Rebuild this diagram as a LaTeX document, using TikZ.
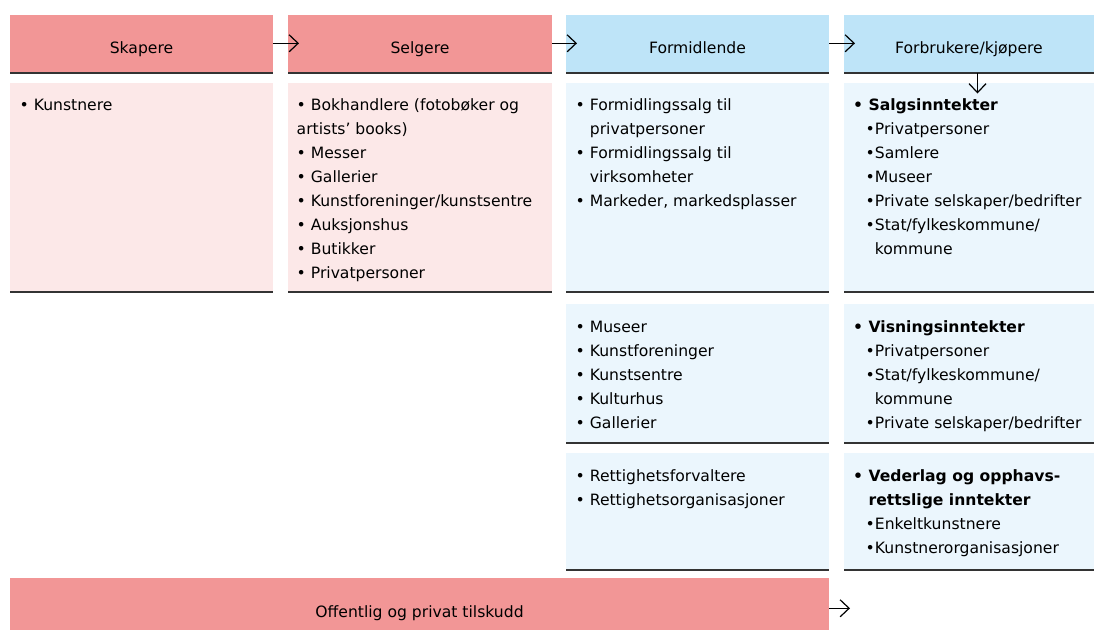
\documentclass[tikz,border=0pt]{standalone}
\usepackage{fontspec}
\setmainfont{DejaVu Sans}
\usetikzlibrary{arrows.meta}
\definecolor{pinkH}{HTML}{F29696}
\definecolor{pinkB}{HTML}{FCE8E8}
\definecolor{blueH}{HTML}{BEE4F8}
\definecolor{blueB}{HTML}{EBF6FD}
\definecolor{rulec}{HTML}{333333}
\newcommand\fsz{\fontsize{15.6}{18}\selectfont}
\newcommand\boxlines[4]{%
  \foreach \t [count=\i] in {#4} {\node[txt] (#1-\i) at ({#2},{#3+24*(\i-1)}) {\t};}}
\tikzset{
  cell/.style={draw=none, inner sep=0pt, outer sep=0pt, anchor=north west},
  hdr/.style={cell, minimum height=58pt, text height=19pt, text depth=0pt, font=\fsz},
  bar/.style={cell, minimum height=52pt, text height=27pt, text depth=0pt, font=\fsz},
  txt/.style={anchor=base west, inner sep=0pt, outer sep=0pt, font=\fsz},
  rule/.style={draw=rulec, line width=1.5pt},
  arr/.style={draw=black, line width=1.2pt, -{Straight Barb[length=9pt,width=17pt]}},
}
\begin{document}
\begin{tikzpicture}[x=1pt,y=-1pt]
\useasboundingbox[fill=white] (0,0) rectangle (1094,630);
% headers
\node[hdr, fill=pinkH, minimum width=263pt] (h1) at (10,15) {Skapere};
\node[hdr, fill=pinkH, minimum width=264pt] (h2) at (288,15) {Selgere};
\node[hdr, fill=blueH, minimum width=263pt] (h3) at (566,15) {Formidlende};
\node[hdr, fill=blueH, minimum width=250pt] (h4) at (844,15) {Forbrukere/kjøpere};
% bodies row 1
\node[cell, fill=pinkB, minimum width=263pt, minimum height=209pt] (b1) at (10,83) {};
\node[cell, fill=pinkB, minimum width=264pt, minimum height=209pt] (b2) at (288,83) {};
\node[cell, fill=blueB, minimum width=263pt, minimum height=209pt] (b3) at (566,83) {};
\node[cell, fill=blueB, minimum width=250pt, minimum height=209pt] (b4) at (844,83) {};
% row 2
\node[cell, fill=blueB, minimum width=263pt, minimum height=139pt] (c3) at (566,304) {};
\node[cell, fill=blueB, minimum width=250pt, minimum height=139pt] (c4) at (844,304) {};
% row 3
\node[cell, fill=blueB, minimum width=263pt, minimum height=117pt] (d3) at (566,453) {};
\node[cell, fill=blueB, minimum width=250pt, minimum height=117pt] (d4) at (844,453) {};
% bar
\node[bar, fill=pinkH, minimum width=819pt] (bar) at (10,578) {Offentlig og privat tilskudd};
% rules
\foreach \n in {h1,h2,h3,h4,b1,b2,b3,b4,c3,c4,d3,d4}
  \draw[rule] (\n.south west) -- (\n.south east);
% texts
\boxlines{t1}{19.7}{110.5}{{• Kunstnere}}
\boxlines{t2}{296.7}{110.5}{{• Bokhandlere (fotobøker og},{artists’ books)},{• Messer},{• Gallerier},{• Kunstforeninger/kunstsentre},{• Auksjonshus},{• Butikker},{• Privatpersoner}}
\boxlines{t3}{575.7}{110.5}{{• Formidlingssalg til},{\phantom{• }privatpersoner},{• Formidlingssalg til},{\phantom{• }virksomheter},{• Markeder, markedsplasser}}
\boxlines{t4}{853.2}{110.5}{{\textbf{• Salgsinntekter}},{\hspace*{12.5pt}•Privatpersoner},{\hspace*{12.5pt}•Samlere},{\hspace*{12.5pt}•Museer},{\hspace*{12.5pt}•Private selskaper/bedrifter},{\hspace*{12.5pt}•Stat/fylkeskommune/},{\hspace*{12.5pt}\phantom{•}kommune}}
\boxlines{u3}{575.7}{332}{{• Museer},{• Kunstforeninger},{• Kunstsentre},{• Kulturhus},{• Gallerier}}
\boxlines{u4}{853.2}{332}{{\textbf{• Visningsinntekter}},{\hspace*{12.5pt}•Privatpersoner},{\hspace*{12.5pt}•Stat/fylkeskommune/},{\hspace*{12.5pt}\phantom{•}kommune},{\hspace*{12.5pt}•Private selskaper/bedrifter}}
\boxlines{v3}{575.7}{481}{{• Rettighetsforvaltere},{• Rettighetsorganisasjoner}}
\boxlines{v4}{853.2}{481}{{\textbf{• Vederlag og opphavs-}},{\textbf{\phantom{• }rettslige inntekter}},{\hspace*{12.5pt}•Enkeltkunstnere},{\hspace*{12.5pt}•Kunstnerorganisasjoner}}
% arrows
\draw[arr] ([yshift=0.7pt]h1.east) -- ([xshift=11pt,yshift=0.7pt]h2.west);
\draw[arr] ([yshift=0.7pt]h2.east) -- ([xshift=11pt,yshift=0.7pt]h3.west);
\draw[arr] ([yshift=0.7pt]h3.east) -- ([xshift=11pt,yshift=0.7pt]h4.west);
\draw[arr] ([xshift=8.5pt]h4.south) -- ([xshift=8.5pt,yshift=-10.5pt]b4.north);
\coordinate (barend) at ([xshift=21pt,yshift=-4.3pt]bar.east);
\draw[arr] ([yshift=-4.3pt]bar.east) -- (barend);
\end{tikzpicture}
\end{document}
